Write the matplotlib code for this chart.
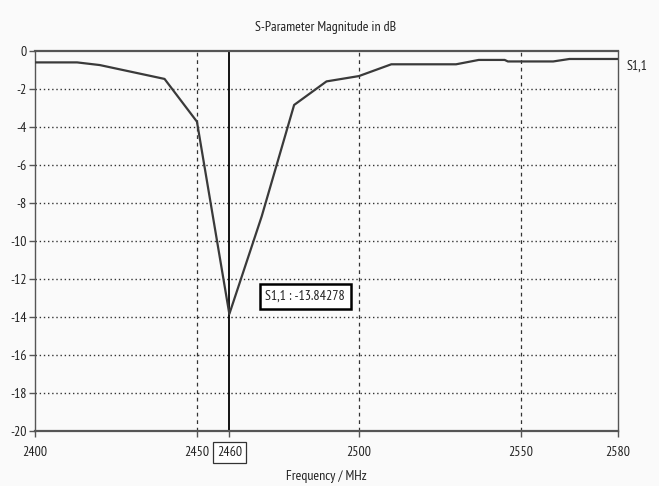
import matplotlib
matplotlib.use("Agg")
import matplotlib.pyplot as plt

# S1,1 magnitude trace
freq_mhz = [2400, 2413, 2420, 2440, 2450, 2460, 2470, 2480, 2490, 2500,
            2510, 2530, 2537, 2545, 2546, 2560, 2565, 2580]
s11_db = [-0.6, -0.6, -0.74, -1.47, -3.72, -13.84278, -8.7, -2.84, -1.6, -1.32,
          -0.7, -0.7, -0.47, -0.47, -0.55, -0.55, -0.42, -0.42]

marker_freq = 2460
marker_value = -13.84278
x_ticks = [2400, 2450, 2460, 2500, 2550, 2580]
x_grid = [2450, 2500, 2550]
y_ticks = list(range(0, -21, -2))

plt.rcParams["font.family"] = ["PT Sans Narrow", "DejaVu Sans"]
bg = "#fafafa"
fs = 10

fig = plt.figure(figsize=(6.59, 4.86), dpi=100, facecolor=bg)
ax = fig.add_axes([35 / 659, 1 - 431 / 486, 583 / 659, 380 / 486], facecolor=bg)

# grid: dotted horizontals, dashed verticals
for yv in y_ticks[1:-1]:
    ax.axhline(yv, color="#333333", lw=1.0, linestyle=(0, (1, 2)), zorder=1)
for xv in x_grid:
    ax.axvline(xv, color="#333333", lw=0.9, linestyle=(0, (3, 3)), zorder=1)

ax.axvline(marker_freq, color="black", lw=1.3, zorder=2)
ax.plot(freq_mhz, s11_db, color="#3a3a3a", lw=1.6, zorder=3)

ax.set_xlim(2400, 2580)
ax.set_ylim(-20, 0)
ax.set_xticks(x_ticks)
ax.set_yticks(y_ticks)
ax.set_yticklabels([str(v) for v in y_ticks])
ax.tick_params(axis="both", direction="out", length=4, width=1, color="#555555",
               labelsize=fs, labelcolor="#222222", pad=2)
ax.tick_params(axis="x", pad=7)

for lbl in ax.get_xticklabels():
    if lbl.get_text() == str(marker_freq):
        lbl.set_bbox(dict(boxstyle="square,pad=0.3", fc="white", ec="#333333", lw=0.9))

for side in ("top", "bottom"):
    ax.spines[side].set_color("#555555")
    ax.spines[side].set_linewidth(1.6)
for side in ("left", "right"):
    ax.spines[side].set_color("#555555")
    ax.spines[side].set_linewidth(1.0)

ax.text(2483.4, -12.92, f"S1,1 : {marker_value:.5f}", fontsize=fs, color="#222222",
        ha="center", va="center", zorder=5,
        bbox=dict(boxstyle="square,pad=0.4", fc="white", ec="black", lw=1.8))

ax.text(1.015, 1 - 15 / 380, "S1,1", transform=ax.transAxes, fontsize=fs,
        color="#222222", ha="left", va="center")

fig.text(326 / 659, 1 - 27 / 486, "S-Parameter Magnitude in dB", fontsize=fs,
         color="#222222", ha="center", va="center")
fig.text(326 / 659, 1 - 476 / 486, "Frequency / MHz", fontsize=fs,
         color="#222222", ha="center", va="center")

fig.savefig("out.png", dpi=100, facecolor=bg)
